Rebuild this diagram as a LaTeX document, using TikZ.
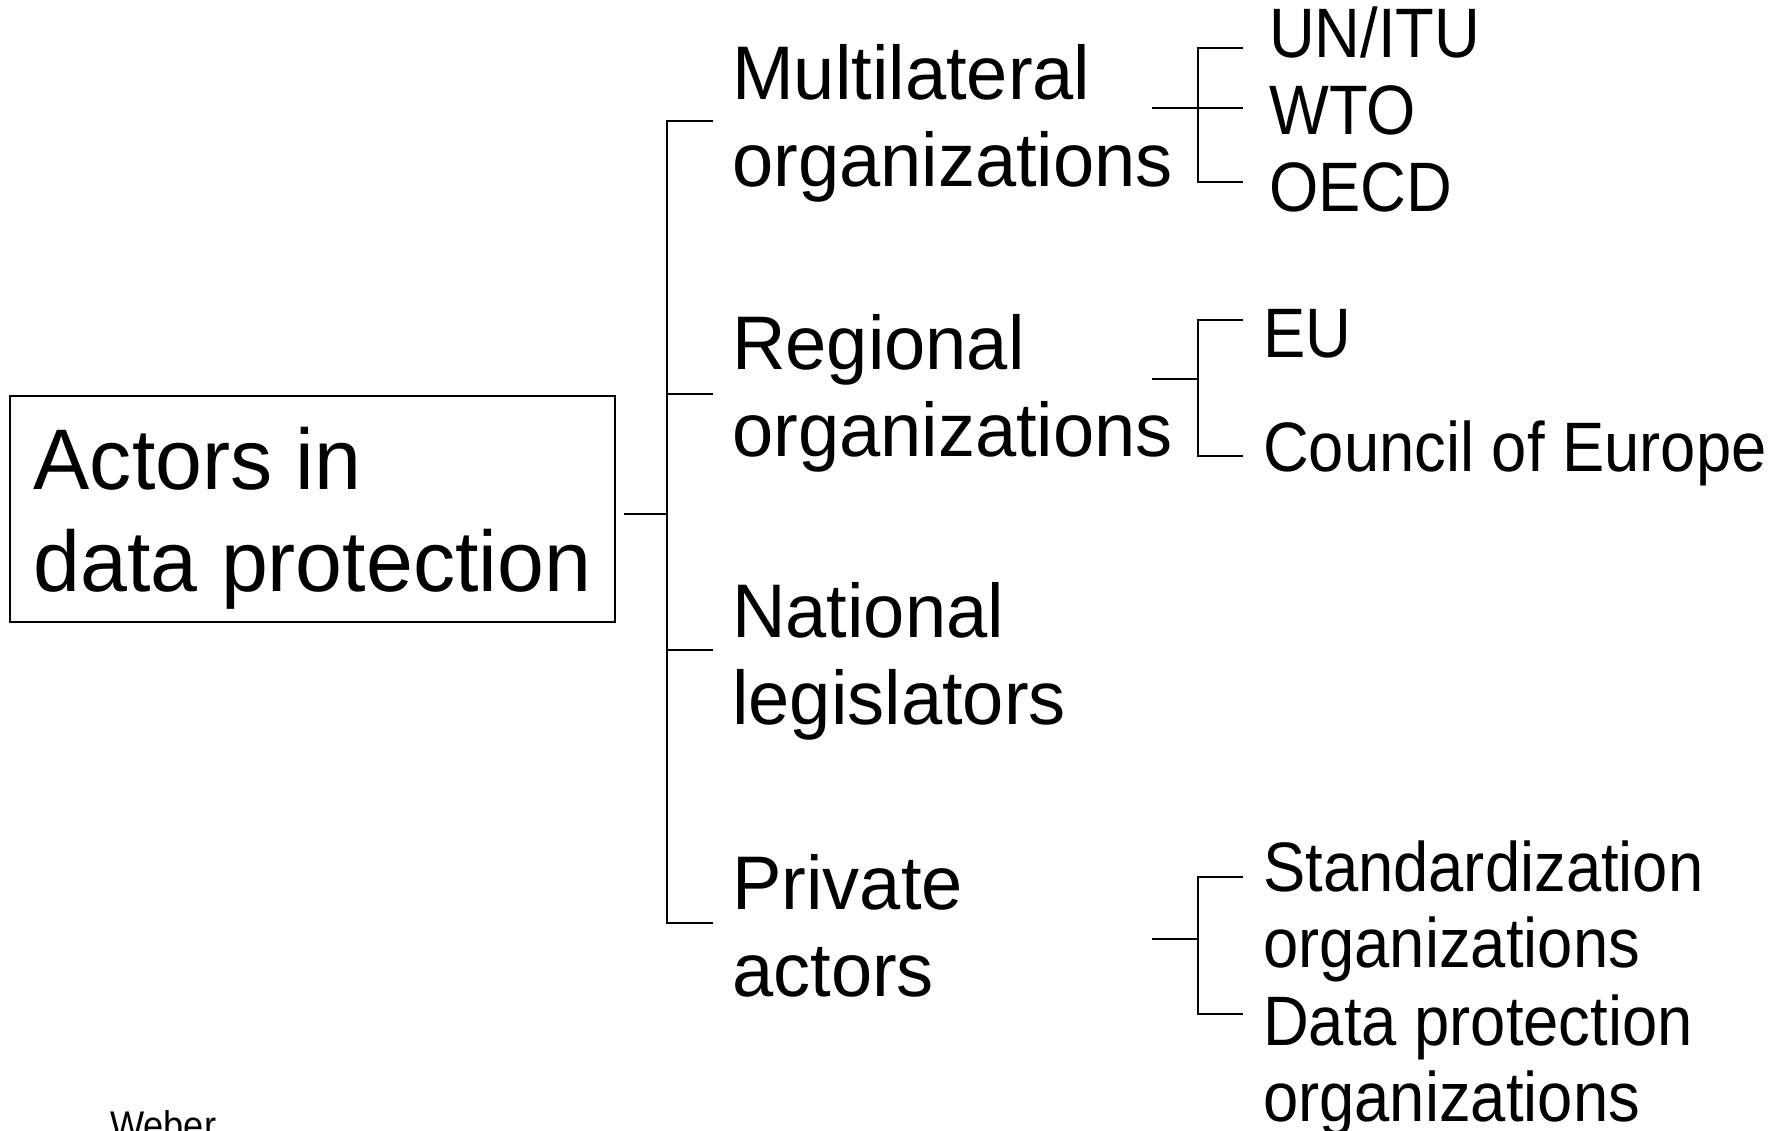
\documentclass[tikz,border=0pt]{standalone}
\usepackage{fontspec}
\setmainfont{Liberation Sans}
\newfontfamily\rootfont[FakeStretch=0.98]{Liberation Sans}
\newfontfamily\midfont[FakeStretch=0.975]{Liberation Sans}
\newfontfamily\leaffont[FakeStretch=0.905]{Liberation Sans}
\begin{document}
\begin{tikzpicture}[x=1pt, y=-1pt,
  link/.style={line width=2pt, draw=black},
  actor/.style={anchor=base west, inner sep=0pt, align=left, font=\midfont\fontsize{76}{87}\selectfont},
  member/.style={anchor=base west, inner sep=0pt, align=left, font=\leaffont\fontsize{70}{76}\selectfont}]
\useasboundingbox (0,0) rectangle (1780,1131);
\node[draw, line width=2pt, anchor=north west, minimum width=605pt, minimum height=226pt, inner sep=0pt, text depth=0pt, align=left, font=\rootfont\fontsize{86}{102}\selectfont] (root) at (9,395) {Actors in\\data protection};
\node[actor] (multi) at (732,187) {Multilateral\\organizations};
\node[actor] (regio) at (732,456) {Regional\\organizations};
\node[actor] (natio) at (732,724) {National\\legislators};
\node[actor] (priv) at (732,996) {Private\\actors};
\node[member] (unitu) at (1269,58) {UN/ITU};
\node[member] (wto) at (1269,135) {WTO};
\node[member] (oecd) at (1269,212) {OECD};
\node[member] (eu) at (1263,358) {EU};
\node[member] (coe) at (1263,471) {Council of Europe};
\node[member] (stand) at (1263,967) {Standardization\\organizations};
\node[member] (dpo) at (1263,1121) {Data protection\\organizations};
\node[anchor=base west, inner sep=0pt, font=\leaffont\fontsize{40}{48}\selectfont] (weber) at (110,1139) {Weber};
\coordinate (rj) at (667,514);
\coordinate (t1) at (713,121);
\coordinate (t2) at (713,394);
\coordinate (t3) at (713,650);
\coordinate (t4) at (713,923);
\coordinate (ms) at (1152,108);
\coordinate (rs) at (1152,379);
\coordinate (ps) at (1152,939);
\coordinate (m1) at (1243,48);
\coordinate (m2) at (1243,108);
\coordinate (m3) at (1243,182);
\coordinate (r1) at (1243,320);
\coordinate (r2) at (1243,456);
\coordinate (p1) at (1243,877);
\coordinate (p2) at (1243,1014);
\path [link] ([xshift=8pt]root.east |- rj) edge (rj);
\draw [link] (t1) -- (t1 -| rj) -- (t4 -| rj) -- (t4);
\path [link] (t2 -| rj) edge (t2);
\path [link] (t3 -| rj) edge (t3);
\draw [link] (m1) -- ([xshift=-45pt]m1) -- ([xshift=-45pt]m3) -- (m3);
\path [link] (ms) edge (m2);
\draw [link] (r1) -- ([xshift=-45pt]r1) -- ([xshift=-45pt]r2) -- (r2);
\path [link] (rs) edge ([xshift=-45pt]rs -| r1);
\draw [link] (p1) -- ([xshift=-45pt]p1) -- ([xshift=-45pt]p2) -- (p2);
\path [link] (ps) edge ([xshift=-45pt]ps -| p1);
\end{tikzpicture}
\end{document}
